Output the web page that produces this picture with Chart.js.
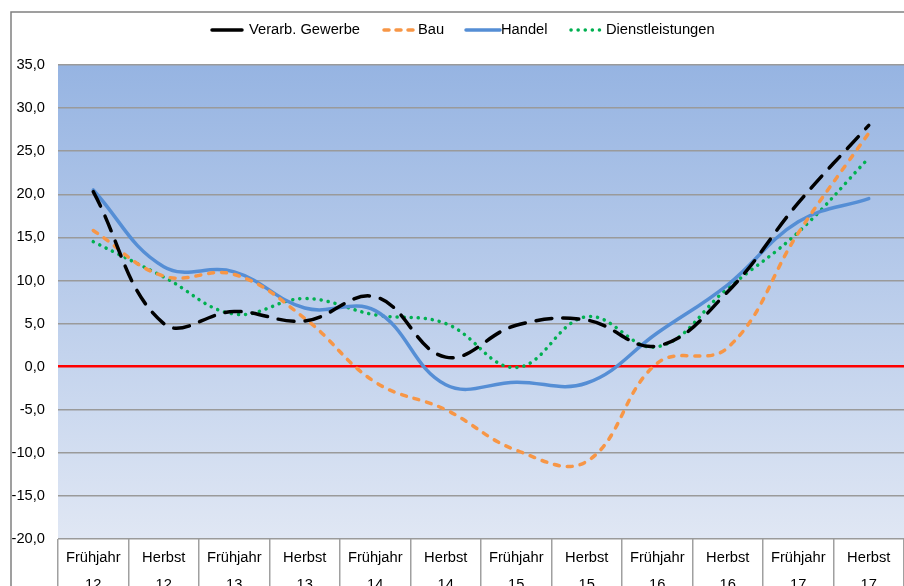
<!DOCTYPE html>
<html>
<head>
<meta charset="utf-8">
<script src="https://cdn.jsdelivr.net/npm/chart.js@4.4.1/dist/chart.umd.min.js"></script>
<style>
html,body{margin:0;padding:0;background:#fff;}
canvas{display:block;}
</style>
</head>
<body>
<canvas id="c" width="904" height="586"></canvas>
<script>
// ---- data ----
const seasons = ["Frühjahr","Herbst","Frühjahr","Herbst","Frühjahr","Herbst","Frühjahr","Herbst","Frühjahr","Herbst","Frühjahr","Herbst"];
const years = ["12","12","13","13","14","14","15","15","16","16","17","17"];
const seriesNames = ["Verarb. Gewerbe","Bau","Handel","Dienstleistungen"];
const verarbGewerbe = [20.3, 5.0, 6.4, 5.3, 8.1, 1.1, 4.8, 5.4, 2.4, 8.7, 19.0, 28.0];
const bau = [15.8, 10.5, 10.7, 5.6, -1.8, -5.0, -9.7, -11.0, 0.4, 2.2, 15.5, 27.1];
const handel = [20.5, 11.6, 11.0, 6.8, 6.5, -2.1, -1.8, -1.9, 3.9, 9.5, 16.8, 19.5];
const dienstleistungen = [14.5, 10.4, 6.1, 7.9, 6.0, 5.0, -0.1, 5.8, 2.3, 9.1, 15.6, 24.2];
const yMin = -20, yMax = 35, yStep = 5;

const labels = seasons.map((s, i) => [s, years[i]]);
const FONT = "Liberation Sans, Arial, sans-serif";

const bgPlugin = {
  id: 'bg',
  beforeDraw(chart) {
    const {ctx, chartArea: a} = chart;
    ctx.save();
    const g = ctx.createLinearGradient(0, a.top, 0, a.bottom);
    g.addColorStop(0, '#96b4e2');
    g.addColorStop(1, '#e0e7f4');
    ctx.fillStyle = g;
    ctx.fillRect(a.left, a.top, a.right - a.left, a.bottom - a.top);
    ctx.restore();
  },
  afterDraw(chart) {
    const {ctx} = chart;
    ctx.save();
    ctx.strokeStyle = '#808080';
    ctx.lineWidth = 1.5;
    ctx.beginPath();
    ctx.moveTo(11, 586);
    ctx.lineTo(11, 12);
    ctx.lineTo(904, 12);
    ctx.stroke();
    // legend
    const items = [
      {x0: 212, x1: 242, tx: 249},
      {x0: 384, x1: 416, tx: 418},
      {x0: 466, x1: 500, tx: 501},
      {x0: 571, x1: 603, tx: 606}
    ];
    const y = 30;
    chart.data.datasets.forEach((ds, i) => {
      const it = items[i];
      ctx.save();
      ctx.strokeStyle = ds.borderColor;
      ctx.lineWidth = ds.borderWidth;
      ctx.lineCap = ds.borderCapStyle || 'butt';
      ctx.setLineDash(ds.legendDash || []);
      ctx.beginPath();
      ctx.moveTo(it.x0, y);
      ctx.lineTo(it.x1, y);
      ctx.stroke();
      ctx.restore();
      ctx.fillStyle = '#000';
      ctx.font = '14.7px ' + FONT;
      ctx.textBaseline = 'middle';
      ctx.textAlign = 'left';
      ctx.fillText(ds.label, it.tx, y);
    });
    ctx.restore();
  }
};

new Chart(document.getElementById('c'), {
  type: 'line',
  data: {
    labels: labels,
    datasets: [
      {label: seriesNames[0], data: verarbGewerbe, borderColor: '#000000', borderWidth: 3.5,
       borderDash: [16, 11], borderCapStyle: 'round', legendDash: [], },
      {label: seriesNames[1], data: bau, borderColor: '#f79646', borderWidth: 3.5,
       borderDash: [5, 8], borderCapStyle: 'round', legendDash: [5, 7]},
      {label: seriesNames[2], data: handel, borderColor: '#558ed5', borderWidth: 3.5,
       borderCapStyle: 'round', legendDash: []},
      {label: seriesNames[3], data: dienstleistungen, borderColor: '#00b050', borderWidth: 3.5,
       borderDash: [0.1, 7], borderCapStyle: 'round', legendDash: [0.1, 7]}
    ].map(d => Object.assign({pointRadius: 0, pointHoverRadius: 0, tension: 0.4, fill: false, backgroundColor: d.borderColor}, d))
  },
  options: {
    responsive: false,
    devicePixelRatio: 1,
    animation: false,
    layout: {padding: {top: 65, left: 0, right: 0, bottom: 0}},
    plugins: {legend: {display: false}, tooltip: {enabled: false}, title: {display: false}},
    scales: {
      x: {
        type: 'category',
        offset: true,
        grid: {offset: true, drawOnChartArea: false, drawTicks: true, tickLength: 47, color: '#a0a0a0', lineWidth: 1.5},
        border: {display: false},
        ticks: {padding: -42, autoSkip: false, maxRotation: 0, color: '#000', font: {family: FONT, size: 14.7, lineHeight: 1.85}},
        afterFit(s) { s.height = 47; }
      },
      y: {
        min: yMin, max: yMax,
        ticks: {stepSize: yStep, padding: 13, color: '#000', font: {family: FONT, size: 14.7},
          callback: v => v.toFixed(1).replace('.', ',')},
        grid: {drawTicks: false,
          color: c => (c.tick && c.tick.value === 0) ? '#ff0000' : '#9a9a9a',
          lineWidth: c => (c.tick && c.tick.value === 0) ? 2.5 : 1.5},
        border: {display: false},
        afterFit(s) { s.width = 58; }
      }
    }
  },
  plugins: [bgPlugin]
});
</script>
</body>
</html>
